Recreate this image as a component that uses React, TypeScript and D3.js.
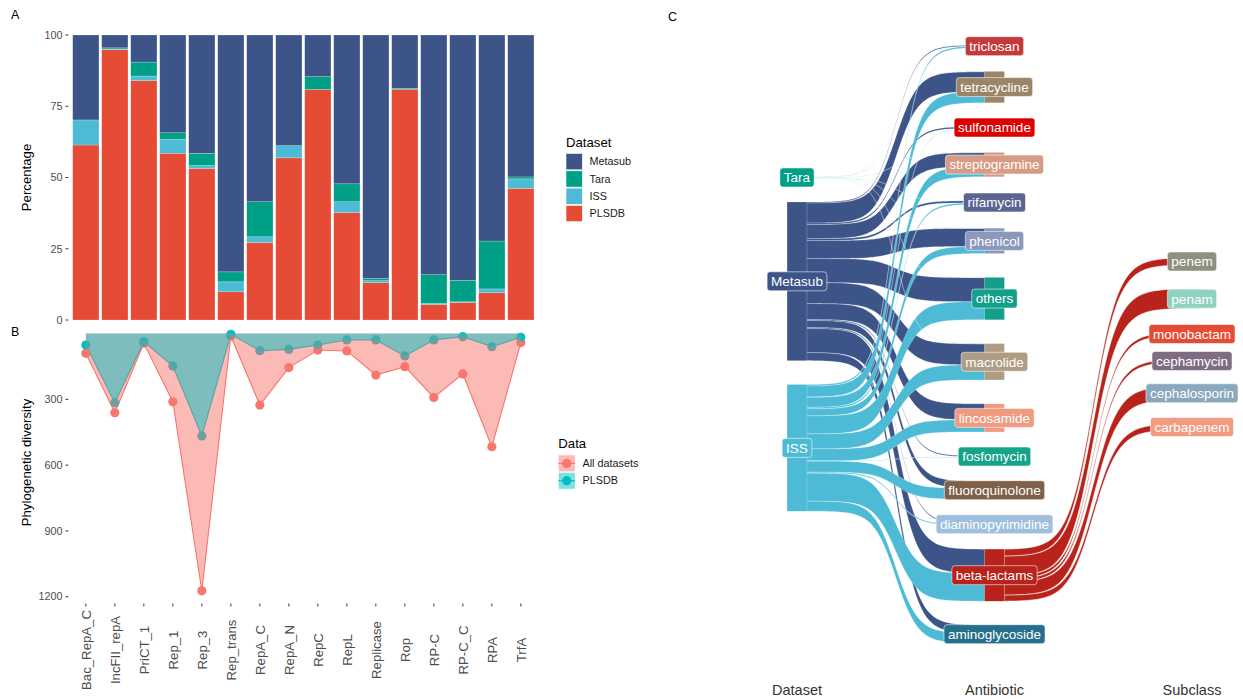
import React from 'react';
import * as d3 from 'd3';

// ---------------- Panel A / B data ----------------
const categories = ["Bac_RepA_C", "IncFII_repA", "PriCT_1", "Rep_1", "Rep_3", "Rep_trans", "RepA_C", "RepA_N", "RepC", "RepL", "Replicase", "Rop", "RP-C", "RP-C_C", "RPA", "TrfA"];
const plsdbPct = [61.4, 94.9, 84.0, 58.5, 53.2, 9.9, 27.2, 56.9, 80.9, 37.7, 13.1, 80.9, 5.5, 6.2, 9.6, 46.2];
const issPct = [8.8, 0.2, 1.6, 4.9, 1.0, 3.5, 2.0, 4.3, 0, 3.8, 0.7, 0, 0.3, 0.2, 1.3, 3.3];
const taraPct = [0, 0.4, 4.9, 2.3, 4.3, 3.5, 12.3, 0, 4.5, 6.3, 0.8, 0.4, 10.1, 7.5, 16.8, 0.7];
const metasubPct = [29.8, 4.5, 9.5, 34.3, 41.5, 83.1, 58.5, 38.8, 14.6, 52.2, 85.4, 18.7, 84.1, 86.1, 72.3, 49.8];
const pctTicks = [0, 25, 50, 75, 100];

const allDiversity = [90, 361, 44, 311, 1173, 12, 326, 155, 75, 79, 189, 151, 291, 184, 516, 41];
const plsdbDiversity = [52, 315, 37, 148, 467, 3, 78, 72, 52, 29, 29, 102, 29, 14, 60, 17];
const divTicks = [300, 600, 900, 1200];

// ---------------- Panel C data ----------------
const sankeyAxes = ["Dataset", "Antibiotic", "Subclass"];
const datasets = ["Tara", "Metasub", "ISS"];
const antibiotics = ["triclosan", "tetracycline", "sulfonamide", "streptogramine", "rifamycin", "phenicol", "others", "macrolide", "lincosamide", "fosfomycin", "fluoroquinolone", "diaminopyrimidine", "beta-lactams", "aminoglycoside"];
const taraToAntibiotic = [0.15, 0.2, 0, 0.2, 0.1, 0.2, 0.2, 0.2, 0, 0, 0, 0, 0, 0];
const metasubToAntibiotic = [1, 20, 1.5, 14, 2, 18, 24, 21, 16, 1, 7, 1, 24, 8];
const issToAntibiotic = [1.5, 11, 0.3, 10, 1.5, 7, 18, 15, 12, 0.3, 11, 1, 28, 10];
const subclasses = ["penem", "penam", "monobactam", "cephamycin", "cephalosporin", "carbapenem"];
const betaToSubclass = [7, 19.5, 3, 3, 13.5, 6];

// ---------------- colours ----------------
const datasetColors: Record<string, string> = { Metasub: "#3C5488", Tara: "#00A087", ISS: "#4DBBD5", PLSDB: "#E64B35" };
const antibioticColors: Record<string, string> = {
  triclosan: "#C4393A", tetracycline: "#9C8469", sulfonamide: "#DC0000", streptogramine: "#D69B86",
  rifamycin: "#5A6592", phenicol: "#8C97BC", others: "#13A08A", macrolide: "#B09C85",
  lincosamide: "#F09A80", fosfomycin: "#16A489", fluoroquinolone: "#7E6148", diaminopyrimidine: "#A0BFDA",
  "beta-lactams": "#B8241C", aminoglycoside: "#256F8A",
};
const subclassColors: Record<string, string> = {
  penem: "#8C9180", penam: "#91D1C2", monobactam: "#E64B35", cephamycin: "#7F6C83", cephalosporin: "#8AA8BE", carbapenem: "#F39B7F",
};
const divColors = { all: "#F8766D", plsdb: "#00BFC4" };

const FONT = '"Liberation Sans", Arial, Helvetica, sans-serif';

let _ctx: CanvasRenderingContext2D | null = null;
function textWidth(t: string, size: number) {
  if (!_ctx && typeof document !== 'undefined') _ctx = document.createElement('canvas').getContext('2d');
  if (!_ctx) return t.length * size * 0.55;
  _ctx.font = `${size}px ${FONT}`;
  return _ctx.measureText(t).width;
}

function stackNodes(sizes: number[], gap: number, center: number) {
  const total = d3.sum(sizes) + gap * (sizes.length - 1);
  let y = center - total / 2;
  return sizes.map(s => { const r = { y0: y, y1: y + s }; y += s + gap; return r; });
}

function flowPath(x0: number, x1: number, t0: number, t1: number, b0: number, b1: number, smooth = 8) {
  const f0 = 1 / (1 + Math.exp(smooth));
  const f1 = 1 / (1 + Math.exp(-smooth));
  const n = 80;
  const pts = d3.range(n + 1).map(i => {
    const t = -smooth + (2 * smooth * i) / n;
    const f = (1 / (1 + Math.exp(-t)) - f0) / (f1 - f0);
    return { x: x0 + ((x1 - x0) * i) / n, top: t0 + (t1 - t0) * f, bot: b0 + (b1 - b0) * f };
  });
  return d3.area<any>().x(d => d.x).y0(d => d.top).y1(d => d.bot)(pts) || '';
}

function Label({ x, y, text, fill }: { x: number; y: number; text: string; fill: string }) {
  const size = 13.5;
  const w = textWidth(text, size) + 8;
  const h = 19;
  return (
    <g>
      <rect x={x - w / 2} y={y - h / 2} width={w} height={h} rx={3} fill={fill} stroke="#ffffff" strokeOpacity={0.55} strokeWidth={1} />
      <text x={x} y={y} dy="0.36em" textAnchor="middle" fontSize={size} fill="#ffffff" fontFamily={FONT}>{text}</text>
    </g>
  );
}

export default function App() {
  // ---------- Panel A ----------
  const x = d3.scalePoint<string>().domain(categories).range([85.85, 520.85]);
  const step = x.step();
  const bw = step * 0.905;
  const yA = d3.scaleLinear().domain([0, 100]).range([320, 35]);
  const table = categories.map((c, i) => ({ cat: c, PLSDB: plsdbPct[i], ISS: issPct[i], Tara: taraPct[i], Metasub: metasubPct[i] }));
  const stackKeys = ["PLSDB", "ISS", "Tara", "Metasub"];
  const series = d3.stack<any>().keys(stackKeys)(table);

  // ---------- Panel B ----------
  const yB = d3.scaleLinear().domain([0, 1200]).range([333.6, 596.7]);
  const allPts = categories.map((c, i) => ({ c, v: allDiversity[i] }));
  const plsPts = categories.map((c, i) => ({ c, v: plsdbDiversity[i] }));
  const area = d3.area<any>().x(d => x(d.c)!).y0(yB(0)).y1(d => yB(d.v));
  const line = d3.line<any>().x(d => x(d.c)!).y(d => yB(d.v));
  const bBottom = 603.6;

  // ---------- Panel C ----------
  const sx = d3.scalePoint<string>().domain(sankeyAxes).range([797, 1192]);
  const nodeW = 19.7;
  const v = d3.scaleLinear().domain([0, 1]).range([0, 1]);
  const gap = 24;
  const centerY = 344;
  const dsFlows = [taraToAntibiotic, metasubToAntibiotic, issToAntibiotic];
  const dsSizes = dsFlows.map(arr => v(d3.sum(arr)));
  const abSizes = antibiotics.map((_, j) => v(dsFlows[0][j] + dsFlows[1][j] + dsFlows[2][j]));
  const scSizes = betaToSubclass.map(val => v(val));
  const dsNodes = stackNodes(dsSizes, gap, centerY);
  const abNodes = stackNodes(abSizes, gap, centerY);
  const scNodes = stackNodes(scSizes, gap, centerY);

  const xD = sx("Dataset")!, xA = sx("Antibiotic")!, xS = sx("Subclass")!;

  const srcCursor = dsNodes.map(n => n.y0);
  const tgtCursor = abNodes.map(n => n.y0);
  const geo: any[] = [];
  const tgtTop: number[][] = datasets.map(() => antibiotics.map(() => 0));
  antibiotics.forEach((_, j) => {
    datasets.forEach((_, i) => {
      tgtTop[i][j] = tgtCursor[j];
      tgtCursor[j] += v(dsFlows[i][j]);
    });
  });
  datasets.forEach((ds, i) => {
    antibiotics.forEach((_, j) => {
      const h = v(dsFlows[i][j]);
      const s0 = srcCursor[i];
      srcCursor[i] += h;
      if (h <= 0) return;
      const t0 = tgtTop[i][j];
      geo.push({ i, d: flowPath(xD + nodeW / 2, xA - nodeW / 2, s0, t0, s0 + h, t0 + h), fill: datasetColors[ds], opacity: ds === 'Tara' ? 0.45 : 1 });
    });
  });
  const drawOrder = [1, 2, 0];
  const flowEls = drawOrder.flatMap(i => geo.filter(g => g.i === i));

  const betaIdx = antibiotics.indexOf("beta-lactams");
  let bCursor = abNodes[betaIdx].y0;
  const flows2: string[] = [];
  subclasses.forEach((_, k) => {
    const h = v(betaToSubclass[k]);
    const s0 = bCursor; bCursor += h;
    const t0 = scNodes[k].y0;
    flows2.push(flowPath(xA + nodeW / 2, xS - nodeW / 2, s0, t0, s0 + h, t0 + h, 7));
  });

  const tickText = "#4D4D4D";

  return (
    <svg width={1243} height={699} style={{ position: 'absolute', left: 0, top: 0, background: '#fff' }} fontFamily={FONT}>
      <rect width={1243} height={699} fill="#ffffff" />
      <text x={11} y={19} fontSize={12.5} fill="#000">A</text>
      <text x={11} y={336} fontSize={12.5} fill="#000">B</text>
      <text x={668} y={21} fontSize={12.5} fill="#000">C</text>

      {/* ---------- Panel A ---------- */}
      {series.map(s => (
        <g key={s.key}>
          {s.map((d: any, i: number) => (
            d[1] - d[0] > 0 ? (
              <rect key={i} x={x(categories[i])! - bw / 2} y={yA(d[1])} width={bw} height={yA(d[0]) - yA(d[1])}
                fill={datasetColors[s.key as string]} stroke="#ffffff" strokeOpacity={0.35} strokeWidth={0.6} />
            ) : null
          ))}
        </g>
      ))}
      {pctTicks.map(t => (
        <g key={t}>
          <line x1={65.5} x2={68.3} y1={yA(t)} y2={yA(t)} stroke="#333" strokeWidth={1} />
          <text x={62.5} y={yA(t)} dy="0.35em" textAnchor="end" fontSize={10.8} fill={tickText}>{t}</text>
        </g>
      ))}
      <text transform={`translate(${31},${yA(50)}) rotate(-90)`} textAnchor="middle" fontSize={13.2} fill="#000">Percentage</text>

      <text x={566} y={147} fontSize={13.2} fill="#000">Dataset</text>
      {["Metasub", "Tara", "ISS", "PLSDB"].map((k, i) => (
        <g key={k}>
          <rect x={566} y={153.5 + i * 17.3} width={16.3} height={16.3} fill={datasetColors[k]} stroke="#fff" strokeWidth={0.6} />
          <text x={589.5} y={161.7 + i * 17.3} dy="0.35em" fontSize={10.8} fill="#1a1a1a">{k}</text>
        </g>
      ))}

      {/* ---------- Panel B ---------- */}
      <path d={line(allPts) || ''} fill="none" stroke={divColors.all} strokeWidth={1.1} />
      <path d={line(plsPts) || ''} fill="none" stroke={divColors.plsdb} strokeWidth={1.1} />
      {allPts.map((p, i) => <circle key={'a' + i} cx={x(p.c)} cy={yB(p.v)} r={4.6} fill={divColors.all} />)}
      {plsPts.map((p, i) => <circle key={'p' + i} cx={x(p.c)} cy={yB(p.v)} r={4.6} fill={divColors.plsdb} />)}
      <path d={area(allPts) || ''} fill={divColors.all} fillOpacity={0.5} />
      <path d={area(plsPts) || ''} fill={divColors.plsdb} fillOpacity={0.5} />
      {divTicks.map(t => (
        <g key={t}>
          <line x1={65.5} x2={68.3} y1={yB(t)} y2={yB(t)} stroke="#333" strokeWidth={1} />
          <text x={62.5} y={yB(t)} dy="0.35em" textAnchor="end" fontSize={10.8} fill={tickText}>{t}</text>
        </g>
      ))}
      {categories.map(c => (
        <g key={c}>
          <line x1={x(c)} x2={x(c)} y1={bBottom} y2={bBottom + 2.8} stroke="#333" strokeWidth={1} />
          <text transform={`translate(${x(c)},${650}) rotate(-90)`} dy="0.36em" textAnchor="middle" fontSize={13.2} fill={tickText}>{c}</text>
        </g>
      ))}
      <text transform={`translate(${31},${462.5}) rotate(-90)`} textAnchor="middle" fontSize={13.2} fill="#000">Phylogenetic diversity</text>

      <text x={558.3} y={447.5} fontSize={13.2} fill="#000">Data</text>
      {[{ k: "All datasets", c: divColors.all }, { k: "PLSDB", c: divColors.plsdb }].map((e, i) => (
        <g key={e.k}>
          <rect x={558.3} y={455 + i * 17.3} width={16.8} height={16.8} fill={e.c} fillOpacity={0.5} stroke="#fff" strokeWidth={0.6} />
          <line x1={558.3} x2={575.1} y1={463.4 + i * 17.3} y2={463.4 + i * 17.3} stroke={e.c} strokeWidth={1.1} />
          <circle cx={566.7} cy={463.4 + i * 17.3} r={4.6} fill={e.c} />
          <text x={582.5} y={463.4 + i * 17.3} dy="0.35em" fontSize={10.8} fill="#1a1a1a">{e.k}</text>
        </g>
      ))}

      {/* ---------- Panel C ---------- */}
      {flowEls.map((g, idx) => (
        <path key={'f' + idx} d={g.d} fill={g.fill} fillOpacity={g.opacity} stroke="#ffffff" strokeWidth={0.35} strokeOpacity={0.7} />
      ))}
      {flows2.map((d, idx) => (
        <path key={'g' + idx} d={d} fill={antibioticColors["beta-lactams"]} stroke="#ffffff" strokeWidth={0.6} strokeOpacity={0.85} />
      ))}
      {datasets.map((ds, i) => (
        <rect key={ds} x={xD - nodeW / 2} y={dsNodes[i].y0} width={nodeW} height={dsNodes[i].y1 - dsNodes[i].y0} fill={datasetColors[ds]} />
      ))}
      {antibiotics.map((a, j) => (
        <rect key={a} x={xA - nodeW / 2} y={abNodes[j].y0} width={nodeW} height={abNodes[j].y1 - abNodes[j].y0} fill={antibioticColors[a]} />
      ))}
      {subclasses.map((s, k) => (
        <rect key={s} x={xS - nodeW / 2} y={scNodes[k].y0} width={nodeW} height={scNodes[k].y1 - scNodes[k].y0} fill={subclassColors[s]} />
      ))}
      {datasets.map((ds, i) => (
        <Label key={'l' + ds} x={xD} y={(dsNodes[i].y0 + dsNodes[i].y1) / 2} text={ds} fill={datasetColors[ds]} />
      ))}
      {antibiotics.map((a, j) => (
        <Label key={'l' + a} x={xA} y={(abNodes[j].y0 + abNodes[j].y1) / 2} text={a} fill={antibioticColors[a]} />
      ))}
      {subclasses.map((s, k) => (
        <Label key={'l' + s} x={xS} y={(scNodes[k].y0 + scNodes[k].y1) / 2} text={s} fill={subclassColors[s]} />
      ))}
      {sankeyAxes.map(a => (
        <text key={a} x={sx(a)} y={695} textAnchor="middle" fontSize={14.5} fill="#333">{a}</text>
      ))}
    </svg>
  );
}
